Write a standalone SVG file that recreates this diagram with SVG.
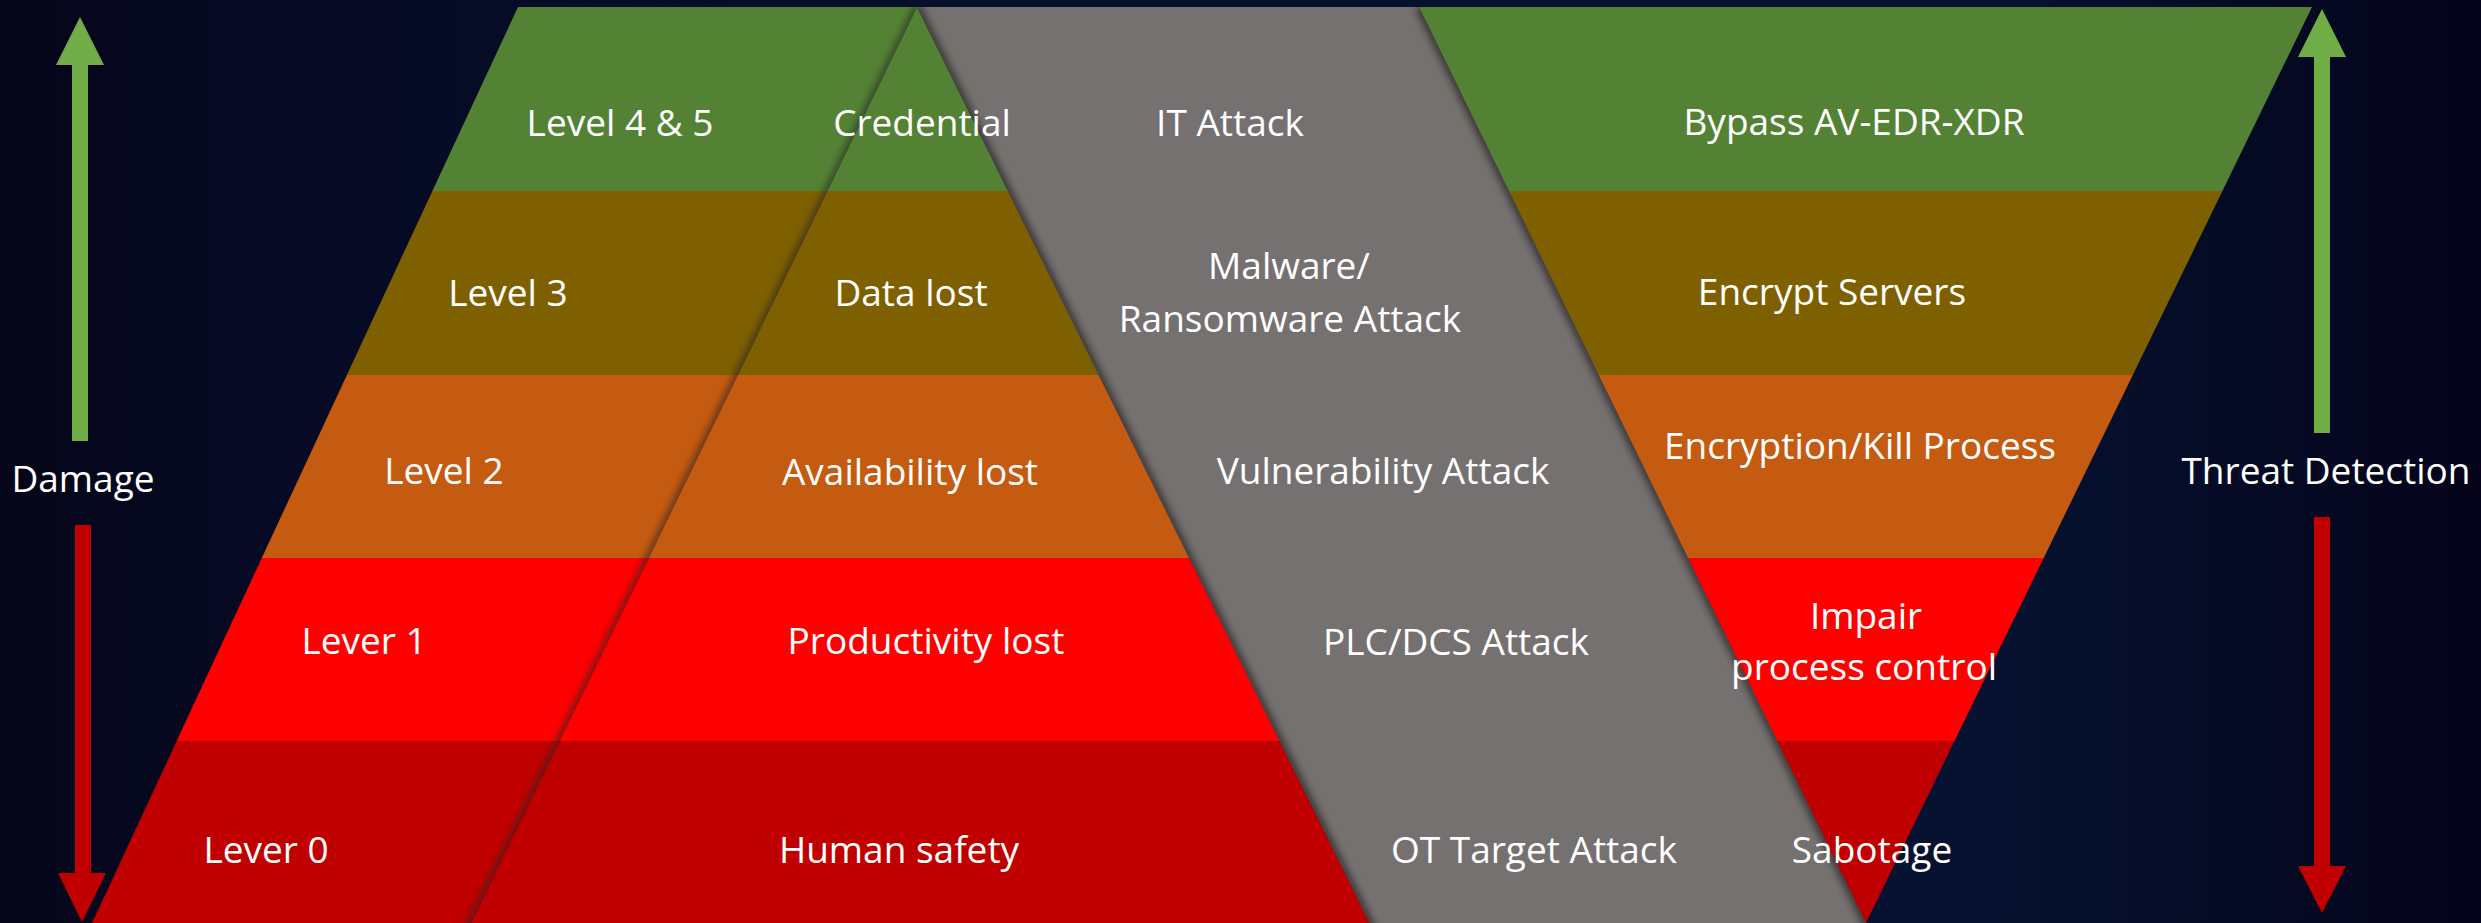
<svg xmlns="http://www.w3.org/2000/svg" width="2481" height="923" viewBox="0 0 2481 923">
<defs>
<linearGradient id="bg" x1="0" y1="0" x2="1" y2="0">
<stop offset="0" stop-color="#06061a"/>
<stop offset="0.12" stop-color="#060a24"/>
<stop offset="0.5" stop-color="#06112e"/>
<stop offset="0.8" stop-color="#061230"/>
<stop offset="0.9" stop-color="#050b25"/>
<stop offset="1" stop-color="#05031a"/>
</linearGradient>
<filter id="blur" x="-10%" y="-10%" width="120%" height="120%"><feGaussianBlur stdDeviation="3"/></filter>
<clipPath id="grayClip"><polygon points="917,7 1419,7 1869.4,930 1373,930"/></clipPath>
<clipPath id="leftClip"><polygon points="518,7 917,7 467.5,930 88.8,930"/></clipPath>
<clipPath id="triClip"><polygon points="917,7 1373,930 467.5,930"/></clipPath>
<style>
.t{font-family:"Open Sans","Noto Sans","DejaVu Sans",sans-serif;font-size:37px;fill:#ffffff;text-anchor:middle}
.b1{fill:#548235}.b2{fill:#7F6000}.b3{fill:#C55A11}.b4{fill:#FF0000}.b5{fill:#C00000}
.g{fill:#767171}
.sh{stroke:#2a2727;fill:none;filter:url(#blur)}
</style>
</defs>
<rect width="2481" height="923" fill="url(#bg)"/>

<!-- Band 1 -->
<g id="level45"><polygon class="b1" points="518,7 917,7 827.4,191 432.4,191"/><text class="t" x="620" y="136">Level 4 &amp; 5</text></g>
<g id="credential"><polygon class="b1" points="917,7 1007.9,191 827.4,191"/></g>
<g id="bypass"><polygon class="b1" points="1419,7 2312,7 2222.4,191 1508.8,191"/><text class="t" x="1854" y="135">Bypass AV-EDR-XDR</text></g>
<!-- Band 2 -->
<g id="level3"><polygon class="b2" points="432.4,191 827.4,191 737.8,375 346.9,375"/><text class="t" x="508" y="306">Level 3</text></g>
<g id="datalost"><polygon class="b2" points="827.4,191 1007.9,191 1098.8,375 737.8,375"/></g>
<g id="encryptservers"><polygon class="b2" points="1508.8,191 2222.4,191 2132.8,375 1598.6,375"/><text class="t" x="1832" y="305">Encrypt Servers</text></g>
<!-- Band 3 -->
<g id="level2"><polygon class="b3" points="346.9,375 737.8,375 648.7,558 261.8,558"/><text class="t" x="444" y="484">Level 2</text></g>
<g id="availability"><polygon class="b3" points="737.8,375 1098.8,375 1189.2,558 648.7,558"/></g>
<g id="encryptionkill"><polygon class="b3" points="1598.6,375 2132.8,375 2043.7,558 1687.9,558"/><text class="t" x="1860" y="459">Encryption/Kill Process</text></g>
<!-- Band 4 -->
<g id="lever1"><polygon class="b4" points="261.8,558 648.7,558 559.5,741 176.7,741"/><text class="t" x="364" y="654">Lever 1</text></g>
<g id="productivity"><polygon class="b4" points="648.7,558 1189.2,558 1279.6,741 559.5,741"/></g>
<g id="impair"><polygon class="b4" points="1687.9,558 2043.7,558 1954.5,741 1777.2,741"/></g>
<!-- Band 5 -->
<g id="lever0"><polygon class="b5" points="176.7,741 559.5,741 467.5,930 88.8,930"/><text class="t" x="266" y="863">Lever 0</text></g>
<g id="humansafety"><polygon class="b5" points="559.5,741 1279.6,741 1373,930 467.5,930"/></g>
<g id="sabotage"><polygon class="b5" points="1777.2,741 1954.5,741 1866,923"/></g>

<!-- Gray attack band -->
<g id="itattack"><polygon class="g" points="917,7 1419,7 1508.8,191 1007.9,191"/></g>
<g id="malware"><polygon class="g" points="1007.9,191 1508.8,191 1598.6,375 1098.8,375"/></g>
<g id="vulnerability"><polygon class="g" points="1098.8,375 1598.6,375 1687.9,558 1189.2,558"/></g>
<g id="plcdcs"><polygon class="g" points="1189.2,558 1687.9,558 1777.2,741 1279.6,741"/></g>
<g id="ottarget"><polygon class="g" points="1279.6,741 1777.2,741 1869.4,930 1373,930"/></g>

<!-- Shadows -->
<g id="shadows">
<g clip-path="url(#grayClip)">
<line class="sh" x1="917" y1="7" x2="1373" y2="930" stroke-width="9" opacity="0.7"/>
<line class="sh" x1="1419" y1="7" x2="1869.4" y2="930" stroke-width="9" opacity="0.7"/>
<line class="sh" x1="900" y1="191" x2="1900" y2="191" stroke-width="7" opacity="0.6"/>
<line class="sh" x1="900" y1="375" x2="1900" y2="375" stroke-width="7" opacity="0.6"/>
<line class="sh" x1="900" y1="558" x2="1900" y2="558" stroke-width="7" opacity="0.6"/>
<line class="sh" x1="900" y1="741" x2="1900" y2="741" stroke-width="7" opacity="0.6"/>
</g>
<g clip-path="url(#leftClip)">
<line class="sh" x1="917" y1="7" x2="467.5" y2="930" stroke-width="8" opacity="0.6"/>
</g>
<g clip-path="url(#triClip)">
<line class="sh" x1="400" y1="375" x2="1400" y2="375" stroke-width="4" opacity="0.3"/>
<line class="sh" x1="400" y1="558" x2="1400" y2="558" stroke-width="4" opacity="0.3"/>
<line class="sh" x1="400" y1="741" x2="1400" y2="741" stroke-width="4" opacity="0.25"/>
</g>
</g>

<!-- Labels drawn above shadows -->
<g id="labels">
<text class="t" x="922" y="136">Credential</text>
<text class="t" x="1230" y="136">IT Attack</text>
<text class="t" x="911" y="306">Data lost</text>
<text class="t" x="1289" y="279">Malware/</text>
<text class="t" x="1290" y="332">Ransomware Attack</text>
<text class="t" x="910" y="485">Availability lost</text>
<text class="t" x="1383" y="484">Vulnerability Attack</text>
<text class="t" x="926" y="654">Productivity lost</text>
<text class="t" x="1456" y="655">PLC/DCS Attack</text>
<text class="t" x="1866" y="629">Impair</text>
<text class="t" x="1864" y="680">process control</text>
<text class="t" x="899" y="863">Human safety</text>
<text class="t" x="1534" y="863">OT Target Attack</text>
<text class="t" x="1872" y="863">Sabotage</text>
<text class="t" x="83" y="492">Damage</text>
<text class="t" x="2326" y="484">Threat Detection</text>
</g>

<!-- Arrows -->
<g id="connectors">
<rect x="72" y="64" width="16" height="377" fill="#70AD47"/>
<polygon points="80,17 104,65 56,65" fill="#70AD47"/>
<rect x="75" y="525" width="16" height="349" fill="#C00000"/>
<polygon points="58,873 106,873 82,922" fill="#C00000"/>
<rect x="2314" y="56" width="16" height="377" fill="#70AD47"/>
<polygon points="2322,9 2346,57 2298,57" fill="#70AD47"/>
<rect x="2314" y="517" width="16" height="350" fill="#C00000"/>
<polygon points="2298,866 2346,866 2322,913" fill="#C00000"/>
</g>
</svg>
